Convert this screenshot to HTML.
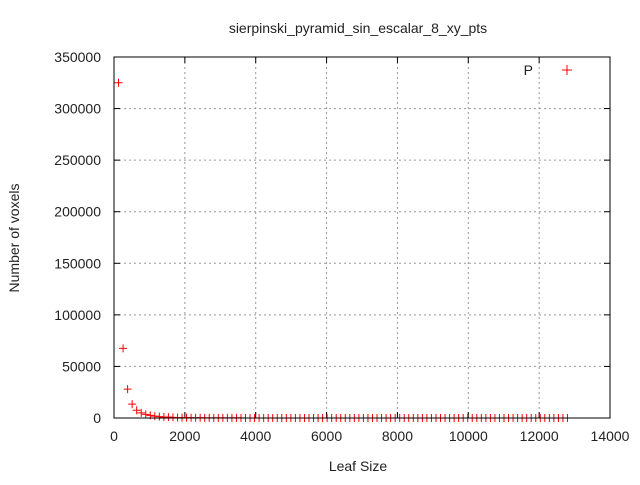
<!DOCTYPE html>
<html><head><meta charset="utf-8"><style>
body{margin:0;background:#fff}
svg text{font-family:"Liberation Sans",sans-serif;font-size:14px;fill:#222}
</style></head><body>
<svg id="chart" width="640" height="480" xmlns="http://www.w3.org/2000/svg">
<rect width="640" height="480" fill="#fff"/>
<text x="358" y="33" text-anchor="middle">sierpinski_pyramid_sin_escalar_8_xy_pts</text>
<text x="358" y="471" text-anchor="middle">Leaf Size</text>
<text transform="translate(19,238) rotate(-90)" text-anchor="middle">Number of voxels</text>
<g id="grid"></g><g id="ticks"></g><g id="pts"></g>
<rect x="114" y="57" width="496" height="361" fill="none" stroke="#000" stroke-width="1"/>
<text x="533" y="75" text-anchor="end">P</text>
<path d="M562,70h10M567,65v10" stroke="#f00" stroke-width="1"/>
</svg>
<script>
const xTicks=[0,2000,4000,6000,8000,10000,12000,14000];
const yTicks=[0,50000,100000,150000,200000,250000,300000,350000];
const leafSizes=[];for(let i=1;i<=100;i++)leafSizes.push(128*i);
const voxels=[325000,67500,28000,13500,7500,5000,3500,2500,1800,1300,1000,800,650,500,400,330,280,230,200,170,150,130,110,100,90,80,70,65,60,55,50,45,42,40,37,35,33,31,29,27,26,25,24,23,22,21,20,19,18,17,17,16,15,15,14,14,13,13,12,12,12,11,11,10,10,10,9,9,9,8,8,8,8,7,7,7,7,6,6,6,6,6,5,5,5,5,5,5,4,4,4,4,4,4,4,4,3,3,3,3];
const L=114,R=610,T=57,B=418;
const sx=v=>L+(v-0)/14000*(R-L), sy=v=>B-v/350000*(B-T);
const NS="http://www.w3.org/2000/svg";
const g=document.getElementById('grid'),tk=document.getElementById('ticks'),p=document.getElementById('pts');
function mk(tag,a,par){const e=document.createElementNS(NS,tag);for(const k in a)e.setAttribute(k,a[k]);par.appendChild(e);return e;}
xTicks.forEach(v=>{const x=sx(v);
 if(v>0&&v<14000){const l=mk('line',{x1:x,x2:x,y1:T,y2:B,stroke:'#999','stroke-dasharray':'2,3'},g);
 
 }
 mk('line',{x1:x,x2:x,y1:B,y2:B-6,stroke:'#000'},tk);mk('line',{x1:x,x2:x,y1:T,y2:T+6,stroke:'#000'},tk);
 const t=mk('text',{x:x,y:B+23,'text-anchor':'middle'},tk);t.textContent=v;
 
 });
yTicks.forEach(v=>{const y=sy(v);
 if(v>0&&v<350000){const l=mk('line',{x1:L,x2:R,y1:y,y2:y,stroke:'#999','stroke-dasharray':'2,3'},g);
 
 }
 mk('line',{x1:L,x2:L+6,y1:y,y2:y,stroke:'#000'},tk);mk('line',{x1:R,x2:R-6,y1:y,y2:y,stroke:'#000'},tk);
 const t=mk('text',{x:L-13,y:y+5,'text-anchor':'end'},tk);t.textContent=v;
 
 });
leafSizes.forEach((v,i)=>{const x=sx(v),y=sy(voxels[i]);
 const e=mk('path',{d:`M${x-4},${y}h8M${x},${y-4}v8`,stroke:'#f00','stroke-width':1},p);
 
 });
</script>
</body></html>
